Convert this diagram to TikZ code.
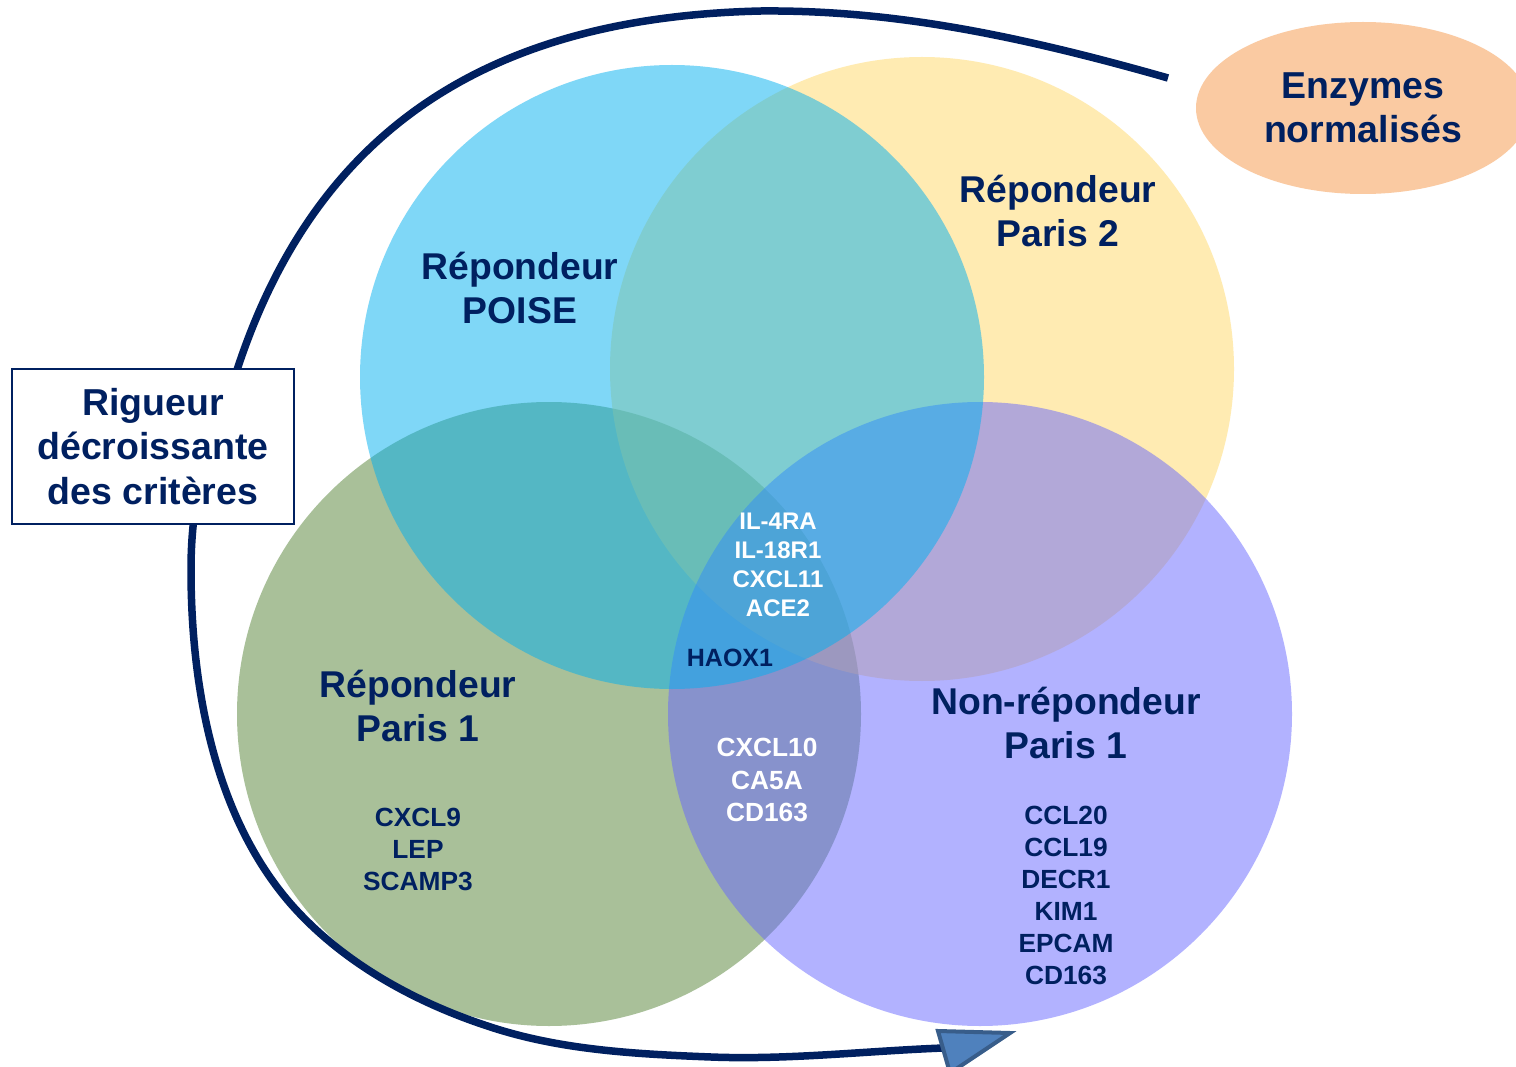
\documentclass[tikz,border=0pt]{standalone}
\usepackage{fontspec}
\setmainfont{Liberation Sans}
\usetikzlibrary{shapes.geometric}
\definecolor{navy}{HTML}{002060}
\definecolor{cblue}{HTML}{00B0F0}
\definecolor{cyellow}{HTML}{FFD966}
\definecolor{cgreen}{HTML}{548235}
\definecolor{cpurple}{HTML}{6666FF}
\definecolor{peach}{HTML}{FACAA2}
\definecolor{headfill}{HTML}{4F81BD}
\definecolor{headline}{HTML}{385D8A}
\begin{document}
\begin{tikzpicture}[x=1pt,y=-1pt,
  venn/.style={circle, minimum size=624pt, inner sep=0pt, draw=none, fill opacity=0.5},
  head/.style={font=\bfseries\fontsize{37.3}{44}\selectfont, text=navy, align=center, inner sep=0pt},
  gene/.style={font=\bfseries\fontsize{26.3}{32}\selectfont, text=navy, align=center, inner sep=0pt},
  wgene/.style={font=\bfseries\fontsize{24}{29}\selectfont, text=white, align=center, inner sep=0pt},
  wgenebig/.style={font=\bfseries\fontsize{26.3}{32.5}\selectfont, text=white, align=center, inner sep=0pt},
  sweep/.style={draw=navy, line width=7.5pt},
  tipbox/.style={draw=headline, fill=headfill, line width=4pt, line join=miter}
]
\useasboundingbox (0,0) rectangle (1516,1067);
\clip (0,0) rectangle (1516,1067);
\fill[white] (0,0) rectangle (1516,1067);

% Venn circles
\node[venn, fill=cgreen] (green) at (549,714) {};
\node[venn, fill=cyellow] (yellow) at (922,369) {};
\node[venn, fill=cpurple] (purple) at (980,714) {};
\node[venn, fill=cblue] (blue) at (672,377) {};

% sweeping arrow
\coordinate (s1) at (1168,78);
\coordinate (s3) at (761,11);
\coordinate (s6) at (238,367);
\coordinate (s7) at (191,570);
\coordinate (s8) at (290,903);
\coordinate (s9) at (500,1030);
\coordinate (s12) at (711,1057);
\coordinate (s13) at (943,1048);
\draw[sweep] (s1) .. controls (1000,30) and (880,10) .. (s3)
  .. controls (500,17) and (320,120) .. (s6)
  .. controls (214,440) and (191,480) .. (s7)
  .. controls (191,686) and (214,815) .. (s8)
  .. controls (344,965) and (421.5,1006) .. (s9)
  .. controls (568,1050.6) and (640,1054.2) .. (s12)
  .. controls (788,1060) and (866,1051) .. (s13);
\coordinate (t1) at (938,1031);
\coordinate (t2) at (1010,1033);
\coordinate (t3) at (950,1073);
\draw[tipbox] (t1) -- (t2) -- (t3) -- cycle;

% box
\node[draw=navy, line width=1.8pt, fill=white, minimum width=282pt, minimum height=155pt, inner sep=0pt,
      font=\bfseries\fontsize{37.5}{44.5}\selectfont, text=navy, align=center] (rig) at (153,446.5)
      {Rigueur\\décroissante\\des critères};

% ellipse
\node[ellipse, fill=peach, minimum width=334pt, minimum height=172pt, inner sep=0pt,
      font=\bfseries\fontsize{37.5}{44}\selectfont, text=navy, align=center] (enz) at (1363,108)
      {Enzymes\\normalisés};

% labels
\node[head] (lpoise) at (520,288) {Répondeur\\POISE};
\node[head] (lp2) at (1058,211) {Répondeur\\Paris 2};
\node[head] (lp1) at (418,706) {Répondeur\\Paris 1};
\node[head] (lnr) at (1066,723) {Non-répondeur\\Paris 1};

\node[gene] (gp1) at (418,849) {CXCL9\\LEP\\SCAMP3};
\node[gene] (gnr) at (1066,895) {CCL20\\CCL19\\DECR1\\KIM1\\EPCAM\\CD163};
\node[wgene] (gall) at (778,565) {IL-4RA\\IL-18R1\\CXCL11\\ACE2};
\node[gene, font=\bfseries\fontsize{25}{30}\selectfont] (ghaox) at (730,658) {HAOX1};
\node[wgenebig] (gcx) at (767,780) {CXCL10\\CA5A\\CD163};
\end{tikzpicture}
\end{document}
